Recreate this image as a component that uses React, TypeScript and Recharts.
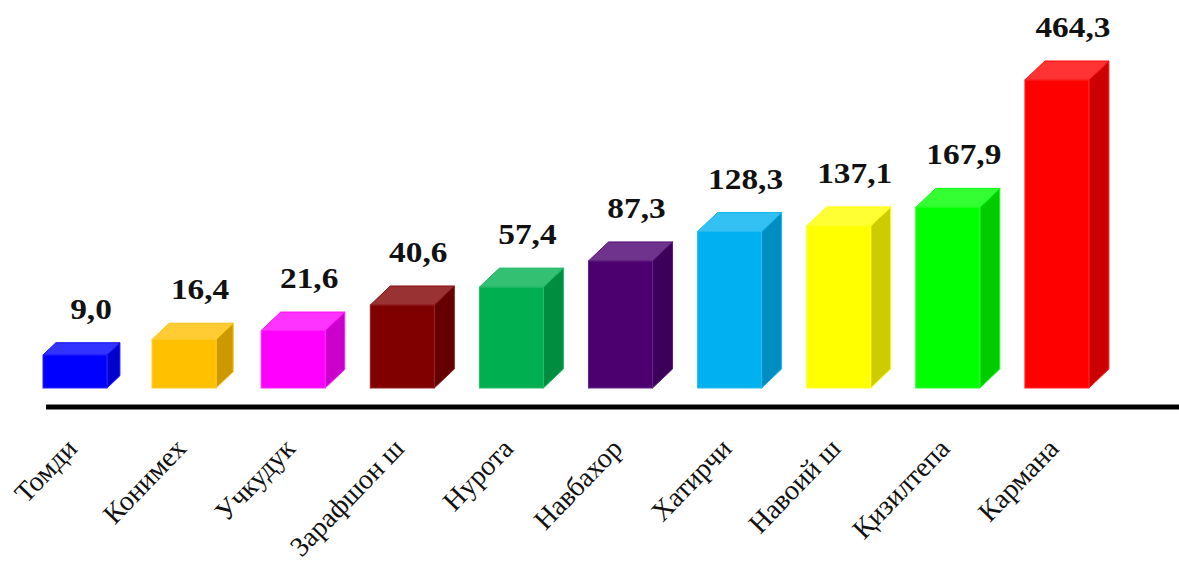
import { BarChart, Bar, XAxis, YAxis, Cell, LabelList } from "recharts";

const categories = [
  "Томди",
  "Конимех",
  "Учкудук",
  "Зарафшон ш",
  "Нурота",
  "Навбахор",
  "Хатирчи",
  "Навоий ш",
  "Қизилтепа",
  "Кармана",
];
const values = [9.0, 16.4, 21.6, 40.6, 57.4, 87.3, 128.3, 137.1, 167.9, 464.3];
const colors = [
  "#0000FF",
  "#FFC000",
  "#FF00FF",
  "#800000",
  "#00B050",
  "#4C0070",
  "#00B0F0",
  "#FFFF00",
  "#00FF00",
  "#FF0000",
];

const data = categories.map((name, i) => ({ name, value: values[i] }));

const SERIF = '"Liberation Serif", "Times New Roman", serif';

function shade(hex: string, f: number): string {
  const n = parseInt(hex.slice(1), 16);
  let r = n >> 16;
  let g = (n >> 8) & 255;
  let b = n & 255;
  if (f >= 0) {
    r = r + (255 - r) * f;
    g = g + (255 - g) * f;
    b = b + (255 - b) * f;
  } else {
    r = r * (1 + f);
    g = g * (1 + f);
    b = b * (1 + f);
  }
  return `rgb(${Math.round(r)},${Math.round(g)},${Math.round(b)})`;
}

// depth of the fake 3d box grows a little with bar height
function depth(h: number) {
  const dx = Math.min(20, 4 + h * 0.27);
  return { dx, dy: dx * 0.95 };
}

function Box3D(props: any) {
  const { x, y, width: w, height: h, fill } = props;
  if (!h || h <= 0) return null;
  const { dx, dy } = depth(h);
  const top = `${x},${y} ${x + dx},${y - dy} ${x + w + dx},${y - dy} ${x + w},${y}`;
  const side = `${x + w},${y} ${x + w + dx},${y - dy} ${x + w + dx},${y + h - dy} ${x + w},${y + h}`;
  return (
    <g>
      <polygon points={side} fill={shade(fill, -0.2)} stroke={shade(fill, 0.1)} strokeWidth={1} />
      <polygon points={top} fill={shade(fill, 0.2)} stroke={shade(fill, 0.05)} strokeWidth={1} />
      <rect x={x} y={y} width={w} height={h} fill={fill} stroke={shade(fill, 0.15)} strokeWidth={1} />
    </g>
  );
}

function ValueLabel(props: any) {
  const { x, y, width, height, value } = props;
  const { dy } = depth(height);
  const cx = x + width / 2 + 16;
  const by = y - dy - 24;
  return (
    <text
      transform={`translate(${cx},${by}) scale(1.15,1)`}
      textAnchor="middle"
      fontFamily={SERIF}
      fontWeight="bold"
      fontSize={29}
      fill="#111"
    >
      {Number(value).toFixed(1).replace(".", ",")}
    </text>
  );
}

function CategoryTick(props: any) {
  const { x, payload } = props;
  return (
    <text
      transform={`translate(${x + 4},450) rotate(-46)`}
      textAnchor="end"
      fontFamily={SERIF}
      fontSize={28}
      fill="#111"
    >
      {payload.value}
    </text>
  );
}

export default function App() {
  return (
    <div style={{ position: "absolute", left: 0, top: 0, width: 1179, height: 566, background: "#fff" }}>
      <BarChart
        width={1179}
        height={566}
        data={data}
        margin={{ top: 80, right: 0, bottom: 59, left: 46 }}
      >
        <XAxis
          dataKey="name"
          interval={0}
          height={100}
          padding={{ left: -26, right: 68 }}
          axisLine={{ stroke: "#000", strokeWidth: 5 }}
          tickLine={false}
          tick={(p: any) => <CategoryTick {...p} />}
        />
        <YAxis hide scale="sqrt" type="number" domain={[0.6, 464.3]} padding={{ top: 0, bottom: 19 }} />
        <Bar dataKey="value" barSize={64} shape={(p: any) => <Box3D {...p} />} isAnimationActive={false}>
          {data.map((d, i) => (
            <Cell key={d.name} fill={colors[i]} />
          ))}
          <LabelList dataKey="value" content={(p: any) => <ValueLabel {...p} />} />
        </Bar>
      </BarChart>
    </div>
  );
}
